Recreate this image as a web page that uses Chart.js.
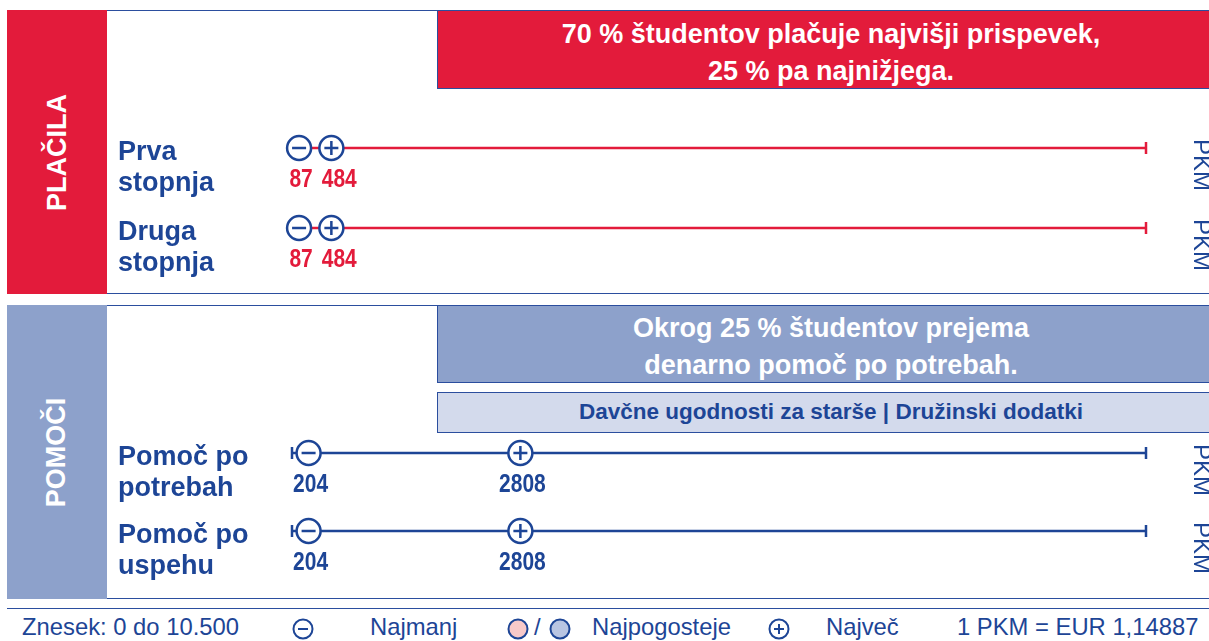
<!DOCTYPE html>
<html lang="sl">
<head>
<meta charset="utf-8">
<title>Plačila in pomoči</title>
<script src="https://cdn.jsdelivr.net/npm/chart.js@4.4.1/dist/chart.umd.min.js"></script>
<style>
  html, body { margin: 0; padding: 0; }
  body {
    width: 1209px; height: 641px; overflow: hidden; position: relative;
    background: #fff; color: #1d4596;
    font-family: "Liberation Sans", Arial, sans-serif;
  }
  .abs { position: absolute; box-sizing: border-box; }
  .panel { left: 7px; width: 1240px; border: 1px solid #2b4e9e; }
  .side { left: 7px; width: 100px; display: flex; align-items: center; justify-content: center; }
  .side span { transform: rotate(-90deg); color: #fff; font-weight: bold; font-size: 27px; white-space: nowrap; }
  .head {
    left: 437px; width: 788px; border: 1px solid #2b4e9e;
    color: #fff; font-weight: bold; font-size: 27px; line-height: 37px;
    text-align: center; display: flex; flex-direction: column; justify-content: center;
  }
  .sub {
    left: 437px; width: 788px; border: 1px solid #2b4e9e; background: #d3daec;
    font-weight: bold; font-size: 22.5px; text-align: center; line-height: 38px;
  }
  canvas { position: absolute; left: 0; }
  .foot { top: 613px; font-size: 23.8px; line-height: 28px; white-space: nowrap; }
  .ico { top: 618px; }
</style>
</head>
<body>

<!-- Plačila panel -->
<div class="abs panel" style="top:10px;height:284px;"></div>
<div class="abs side" style="top:10px;height:284px;background:#e31b3b;"><span>PLAČILA</span></div>
<div class="abs head" style="top:10px;height:79px;background:#e31b3b;padding-top:7px;">
  <div>70 % študentov plačuje najvišji prispevek,</div>
  <div>25 % pa najnižjega.</div>
</div>

<!-- Pomoči panel -->
<div class="abs panel" style="top:305px;height:294px;"></div>
<div class="abs side" style="top:305px;height:294px;background:#8da1cb;"><span>POMOČI</span></div>
<div class="abs head" style="top:305px;height:78px;background:#8da1cb;padding-top:5px;">
  <div>Okrog 25 % študentov prejema</div>
  <div>denarno pomoč po potrebah.</div>
</div>
<div class="abs sub" style="top:392px;height:41px;">Davčne ugodnosti za starše | Družinski dodatki</div>

<canvas id="payChart" width="1209" height="300" style="top:0px;"></canvas>
<canvas id="aidChart" width="1209" height="300" style="top:300px;"></canvas>

<!-- legend / footer -->
<div class="abs" style="left:7px;top:608px;width:1240px;border-top:1px solid #2b4e9e;"></div>
<div class="abs foot" style="left:22px;">Znesek: 0 do 10.500</div>
<svg class="abs ico" style="left:292px;" width="22" height="22" viewBox="0 0 22 22">
  <circle cx="11" cy="11" r="9.5" fill="#fff" stroke="#1d4596" stroke-width="2"/>
  <line x1="6" y1="11" x2="16" y2="11" stroke="#1d4596" stroke-width="2"/>
</svg>
<div class="abs foot" style="left:370px;">Najmanj</div>
<svg class="abs ico" style="left:507px;" width="22" height="22" viewBox="0 0 22 22">
  <circle cx="11" cy="11" r="9.5" fill="#f8c9c9" stroke="#1d4596" stroke-width="2"/>
</svg>
<div class="abs foot" style="left:534px;">/</div>
<svg class="abs ico" style="left:549px;" width="22" height="22" viewBox="0 0 22 22">
  <circle cx="11" cy="11" r="9.5" fill="#b9c5e2" stroke="#1d4596" stroke-width="2"/>
</svg>
<div class="abs foot" style="left:592px;">Najpogosteje</div>
<svg class="abs ico" style="left:768px;" width="22" height="22" viewBox="0 0 22 22">
  <circle cx="11" cy="11" r="9.5" fill="#fff" stroke="#1d4596" stroke-width="2"/>
  <line x1="6" y1="11" x2="16" y2="11" stroke="#1d4596" stroke-width="2"/>
  <line x1="11" y1="6" x2="11" y2="16" stroke="#1d4596" stroke-width="2"/>
</svg>
<div class="abs foot" style="left:826px;">Največ</div>
<div class="abs foot" style="left:957px;">1 PKM = EUR 1,14887</div>

<script>
// scale of amounts (in PKM)
const scaleMin = 0;
const scaleMax = 10500;
const unit = "PKM";

// Plačila (fees)
const payRows = [["Prva", "stopnja"], ["Druga", "stopnja"]];
const payMin = [87, 87];
const payMax = [484, 484];

// Pomoči (aid)
const aidRows = [["Pomoč po", "potrebah"], ["Pomoč po", "uspehu"]];
const aidMin = [204, 204];
const aidMax = [2808, 2808];

const blue = "#1d4596";
const red = "#e31b3b";

// condensed bold numbers: no narrow font installed, so squeeze a normal one
const narrow = 0.84;

// draws row names, min/max values under the markers and the unit label
const rowText = {
    id: "rowText",
    afterDraw(chart, args, opts) {
        const c = chart.ctx;
        const xs = chart.scales.x;
        const ys = chart.scales.y;
        c.save();
        opts.rows.forEach(function (lines, i) {
            const y = ys.getPixelForValue(i);

            // row name
            c.fillStyle = blue;
            c.font = 'bold 27px "Liberation Sans", Arial, sans-serif';
            c.textAlign = "left";
            c.textBaseline = "alphabetic";
            lines.forEach(function (t, k) {
                c.fillText(t, 118, y + 12 + k * 31);
            });

            // values, pushed apart when they would touch
            c.fillStyle = opts.valueColor;
            c.font = 'bold 25px "Liberation Sans", Arial, sans-serif';
            c.textAlign = "center";
            c.textBaseline = "middle";
            const lo = String(opts.mins[i]);
            const hi = String(opts.maxs[i]);
            const loX = xs.getPixelForValue(opts.mins[i]) + 2;
            let hiX = xs.getPixelForValue(opts.maxs[i]) + 2;
            const loW = c.measureText(lo).width * narrow;
            const hiW = c.measureText(hi).width * narrow;
            if (hiX - hiW / 2 < loX + loW / 2 + 9) hiX = loX + loW / 2 + 9 + hiW / 2;
            [[lo, loX], [hi, hiX]].forEach(function (p) {
                c.save();
                c.translate(p[1], y + 32);
                c.scale(narrow, 1);
                c.fillText(p[0], 0, 0);
                c.restore();
            });

            // unit, rotated
            c.save();
            c.translate(chart.chartArea.right + 48, y + 17);
            c.rotate(Math.PI / 2);
            c.fillStyle = blue;
            c.font = '24px "Liberation Sans", Arial, sans-serif';
            c.textAlign = "center";
            c.textBaseline = "alphabetic";
            c.fillText(unit, 0, 0);
            c.restore();
        });
        c.restore();
    },
};

function rangeChart(id, rows, mins, maxs, lineColor, valueColor, pad) {
    const ctx = document.getElementById(id).getContext("2d");
    const idx = rows.map(function (r, i) { return i; });

    const ranges = idx.map(function (i) {
        return {
            data: [{ x: scaleMin, y: i }, { x: scaleMax, y: i }],
            showLine: true,
            borderColor: lineColor,
            borderWidth: 2.5,
            pointStyle: "line",
            pointRotation: 90,
            pointRadius: 6,
            pointBorderColor: lineColor,
            pointBorderWidth: 2.5,
            clip: false,
            order: 2,
        };
    });

    return new Chart(ctx, {
        type: "scatter",
        data: {
            datasets: [
                // minus sign
                {
                    data: idx.map(function (i) { return { x: mins[i], y: i }; }),
                    pointStyle: "line",
                    pointRadius: 7,
                    pointBorderColor: blue,
                    pointBorderWidth: 2.5,
                    clip: false,
                    order: 0,
                },
                // plus sign
                {
                    data: idx.map(function (i) { return { x: maxs[i], y: i }; }),
                    pointStyle: "cross",
                    pointRadius: 7,
                    pointBorderColor: blue,
                    pointBorderWidth: 2.5,
                    clip: false,
                    order: 0,
                },
                // marker rings
                {
                    data: idx.map(function (i) { return { x: mins[i], y: i }; })
                        .concat(idx.map(function (i) { return { x: maxs[i], y: i }; })),
                    pointStyle: "circle",
                    pointRadius: 12,
                    pointBackgroundColor: "#fff",
                    pointBorderColor: blue,
                    pointBorderWidth: 2.5,
                    clip: false,
                    order: 1,
                },
            ].concat(ranges),
        },
        options: {
            responsive: false,
            animation: false,
            events: [],
            layout: { padding: pad },
            plugins: {
                legend: { display: false },
                tooltip: { enabled: false },
                rowText: { rows: rows, mins: mins, maxs: maxs, valueColor: valueColor },
            },
            scales: {
                x: { type: "linear", min: scaleMin, max: scaleMax, display: false },
                y: { type: "linear", min: 0, max: rows.length - 1, reverse: true, display: false },
            },
        },
        plugins: [rowText],
    });
}

rangeChart("payChart", payRows, payMin, payMax, red, red,
    { left: 292, right: 63, top: 148, bottom: 72 });
rangeChart("aidChart", aidRows, aidMin, aidMax, blue, blue,
    { left: 292, right: 63, top: 153, bottom: 69 });
</script>
</body>
</html>
